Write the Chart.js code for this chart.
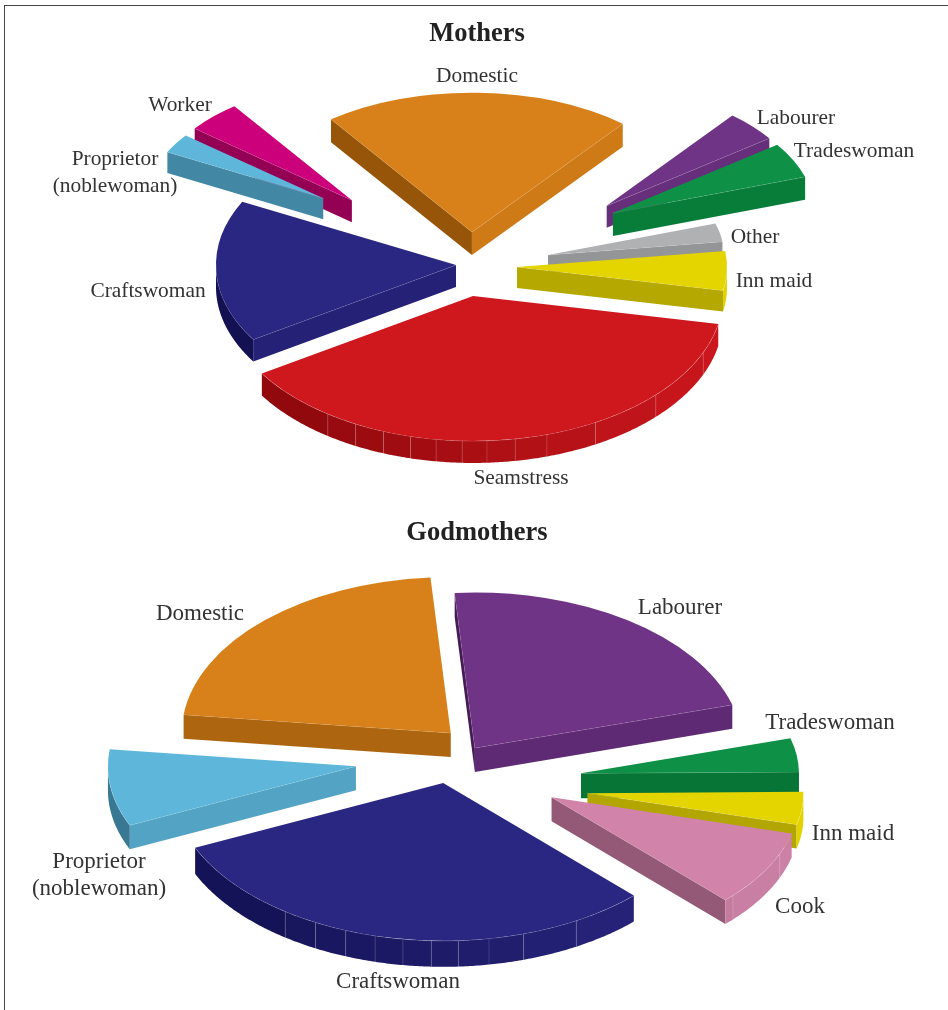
<!DOCTYPE html>
<html>
<head>
<meta charset="utf-8">
<title>Mothers and Godmothers</title>
<script src="https://cdn.jsdelivr.net/npm/chart.js@4"></script>
<style>
    html, body { margin: 0; padding: 0; background: #fff; overflow: hidden; }
    #marco { position: absolute; left: 4px; top: 5px; width: 944px; height: 1005px; border-top: 1px solid #444; border-left: 1px solid #444; }
    canvas { position: absolute; left: 6px; }
    #madres { top: 0; }
    #madrinas { top: 505px; }
</style>
</head>
<body>
<div id="marco"></div>
<canvas id="madres" width="942" height="505"></canvas>
<canvas id="madrinas" width="942" height="505"></canvas>

<script>
// datos (% de cada ocupacion)
const categoriasMadres = ['Seamstress', 'Craftswoman', ['Proprietor', '(noblewoman)'], 'Worker', 'Domestic', 'Labourer', 'Tradeswoman', 'Other', 'Inn maid'];
const valoresMadres = [37.9, 16.5, 3.1, 4.4, 20.8, 4.3, 4.9, 2.9, 5.2];

const categoriasMadrinas = ['Craftswoman', ['Proprietor', '(noblewoman)'], 'Domestic', 'Labourer', 'Tradeswoman', 'Inn maid', 'Cook'];
const valoresMadrinas = [30.6, 8.6, 21.9, 21.7, 4.3, 4.2, 8.6];

// colores
const coloresMadres = ['#CE181E', '#2A2782', '#5EB7DB', '#CC007A', '#D8811A', '#703487', '#0E9046', '#B0B1B3', '#E4D400'];
const coloresMadrinas = ['#2A2782', '#5EB7DB', '#D8811A', '#703487', '#0E9046', '#E4D400', '#D183A9'];

// estilo de cada porcion: radio, separacion, giro de la separacion, grosor
const radiosMadres = [250, 240, 175, 200, 240, 200, 202, 176, 210];
const separaMadres = [53.6, 12, 185, 161.2, 57, 172.2, 170.5, 81.8, 49.1];
const giroMadres = [5.2, 2.5, 5.9, -2.2, 2.5, 7, -5, 0.6, 2.1];
const grosorMadres = [22, 22, 21, 22, 23, 22, 23, 18, 21];
const etiquetasMadres = [[521, 478], [148, 291], [115, 173], [180, 105], [477, 76], [796, 118], [854, 151], [755, 237], [774, 281]];

const radiosMadrinas = [272, 248, 269, 268, 218, 216, 248];
const separaMadrinas = [29, 109.5, 68.7, 42.6, 116, 127.8, 97];
const giroMadrinas = [38.2, 13.9, 31.8, -21.4, 9.5, 9.7, -3.2];
const grosorMadrinas = [26, 24, 24, 24, 25, 24, 24];
const etiquetasMadrinas = [[398, 982], [99, 875], [200, 614], [680, 608], [830, 723], [853, 834], [800, 907]];

// angulos (grados) donde cambia de faceta la pared exterior
const facetas = [0, 23, 43, 60.7, 72.8, 80.3, 86.8, 92.5, 98.5, 104.5, 111, 118, 125.5, 180];

const RAD = Math.PI / 180;
const APLASTADO = 0.58;

// oscurece un color segun la orientacion de la cara
function sombra(hex, nx) {
    const r = 0.83 + 0.16 * nx;
    const canal = i => {
        const c = parseInt(hex.substr(1 + i * 2, 2), 16);
        return Math.max(0, Math.round(c * r - 35 * (1 - r) * (1 - c / 255)));
    };
    return 'rgb(' + canal(0) + ',' + canal(1) + ',' + canal(2) + ')';
}

function caraRadial(ctx, g, angulo, nx) {
    const x = g.ax + g.radio * Math.cos(angulo);
    const y = g.ay + g.radio * APLASTADO * Math.sin(angulo);
    ctx.beginPath();
    ctx.moveTo(g.ax, g.ay);
    ctx.lineTo(x, y);
    ctx.lineTo(x, y + g.grosor);
    ctx.lineTo(g.ax, g.ay + g.grosor);
    ctx.closePath();
    ctx.fillStyle = sombra(g.color, nx);
    ctx.fill();
    ctx.beginPath();
    ctx.moveTo(g.ax, g.ay);
    ctx.lineTo(x, y);
    ctx.strokeStyle = 'rgba(255,255,255,0.3)';
    ctx.lineWidth = 0.7;
    ctx.stroke();
}

function caraExterior(ctx, g) {
    const punto = t => [g.ax + g.radio * Math.cos(t), g.ay + g.radio * APLASTADO * Math.sin(t)];

    [0, 2 * Math.PI].forEach(vuelta => {
        for (let k = 0; k < facetas.length - 1; k++) {
            const a = Math.max(facetas[k] * RAD + vuelta, g.inicio);
            const b = Math.min(facetas[k + 1] * RAD + vuelta, g.fin);
            if (a >= b) continue;

            const angulos = [];
            for (let t = a; t < b; t += RAD / 2) angulos.push(t);
            angulos.push(b);

            ctx.beginPath();
            angulos.forEach((t, i) => {
                const p = punto(t);
                if (i === 0) ctx.moveTo(p[0], p[1]); else ctx.lineTo(p[0], p[1]);
            });
            angulos.slice().reverse().forEach(t => {
                const p = punto(t);
                ctx.lineTo(p[0], p[1] + g.grosor);
            });
            ctx.closePath();
            ctx.fillStyle = sombra(g.color, Math.cos((a + b) / 2));
            ctx.fill();

            // linea clara entre facetas
            if (a > g.inicio) {
                const p0 = punto(a);
                ctx.strokeStyle = 'rgba(255,255,255,0.2)';
                ctx.lineWidth = 0.7;
                ctx.beginPath();
                ctx.moveTo(p0[0], p0[1]);
                ctx.lineTo(p0[0], p0[1] + g.grosor);
                ctx.stroke();
            }
            // borde superior
            ctx.strokeStyle = 'rgba(255,255,255,0.3)';
            ctx.lineWidth = 0.7;
            ctx.beginPath();
            angulos.forEach((t, i) => {
                const p = punto(t);
                if (i === 0) ctx.moveTo(p[0], p[1]); else ctx.lineTo(p[0], p[1]);
            });
            ctx.stroke();
        }
    });
}

// dibuja las porciones que calcula Chart.js como bloques en perspectiva
const pastel3d = {
    id: 'pastel3d',
    beforeDatasetDraw(chart, args, op) {
        const ctx = chart.ctx;
        const canvas = chart.canvas;

        const piezas = chart.getDatasetMeta(0).data.map((arco, i) => {
            const medio = (arco.startAngle + arco.endAngle) / 2;
            const dir = medio + op.giro[i] * RAD;
            const ax = op.cx + op.separa[i] * Math.cos(dir);
            const ay = op.cy + op.separa[i] * APLASTADO * Math.sin(dir);
            return {
                arco: arco, ax: ax, ay: ay,
                inicio: arco.startAngle, fin: arco.endAngle,
                radio: op.radios[i], grosor: op.grosor[i], color: op.colores[i],
                fondo: ay + op.radios[i] * 0.6 * APLASTADO * Math.sin(medio)
            };
        });
        piezas.sort((a, b) => a.fondo - b.fondo);

        ctx.save();
        ctx.translate(-canvas.offsetLeft, -canvas.offsetTop);
        piezas.forEach(g => {
            if (Math.cos(g.inicio) < 0) caraRadial(ctx, g, g.inicio, Math.sin(g.inicio));
            if (Math.cos(g.fin) > 0) caraRadial(ctx, g, g.fin, -Math.sin(g.fin));
            caraExterior(ctx, g);

            const s = g.radio / g.arco.outerRadius;
            ctx.save();
            ctx.translate(g.ax, g.ay);
            ctx.scale(s, s * APLASTADO);
            ctx.translate(-g.arco.x, -g.arco.y);
            g.arco.draw(ctx);
            ctx.restore();
        });
        ctx.restore();
        return false;
    },
    afterDraw(chart, args, op) {
        const ctx = chart.ctx;
        const canvas = chart.canvas;
        ctx.save();
        ctx.translate(-canvas.offsetLeft, -canvas.offsetTop);
        ctx.font = op.letra + 'px "Liberation Serif"';
        ctx.fillStyle = '#333';
        ctx.textAlign = 'center';
        ctx.textBaseline = 'middle';
        chart.data.labels.forEach((texto, i) => {
            const lineas = Array.isArray(texto) ? texto : [texto];
            const alto = 27;
            lineas.forEach((linea, j) => {
                const y = op.etiquetas[i][1] + (j - (lineas.length - 1) / 2) * alto;
                ctx.fillText(linea, op.etiquetas[i][0], y);
            });
        });
        ctx.restore();
    }
};

function crearPastel(id, titulo, relleno, categorias, valores, rotacion, estilo) {
    new Chart(document.getElementById(id), {
        type: 'pie',
        data: {
            labels: categorias,
            datasets: [{
                data: valores,
                backgroundColor: estilo.colores,
                borderWidth: 0
            }]
        },
        options: {
            responsive: false,
            animation: false,
            rotation: rotacion,
            plugins: {
                legend: { display: false },
                tooltip: { enabled: false },
                title: {
                    display: true,
                    text: titulo,
                    color: '#222',
                    font: { family: '"Liberation Serif"', size: 26.5, weight: 'bold' },
                    padding: { top: relleno, bottom: 8 }
                },
                pastel3d: estilo
            }
        },
        plugins: [pastel3d]
    });
}

document.addEventListener('DOMContentLoaded', function () {
    crearPastel('madres', 'Mothers', 18, categoriasMadres, valoresMadres, 101.2, {
        cx: 468, cy: 265, colores: coloresMadres, radios: radiosMadres,
        separa: separaMadres, giro: giroMadres, grosor: grosorMadres,
        etiquetas: etiquetasMadres, letra: 21.4
    });
    crearPastel('madrinas', 'Godmothers', 12, categoriasMadrinas, valoresMadrinas, 135.5, {
        cx: 465, cy: 772, colores: coloresMadrinas, radios: radiosMadrinas,
        separa: separaMadrinas, giro: giroMadrinas, grosor: grosorMadrinas,
        etiquetas: etiquetasMadrinas, letra: 23
    });
});
</script>
</body>
</html>
